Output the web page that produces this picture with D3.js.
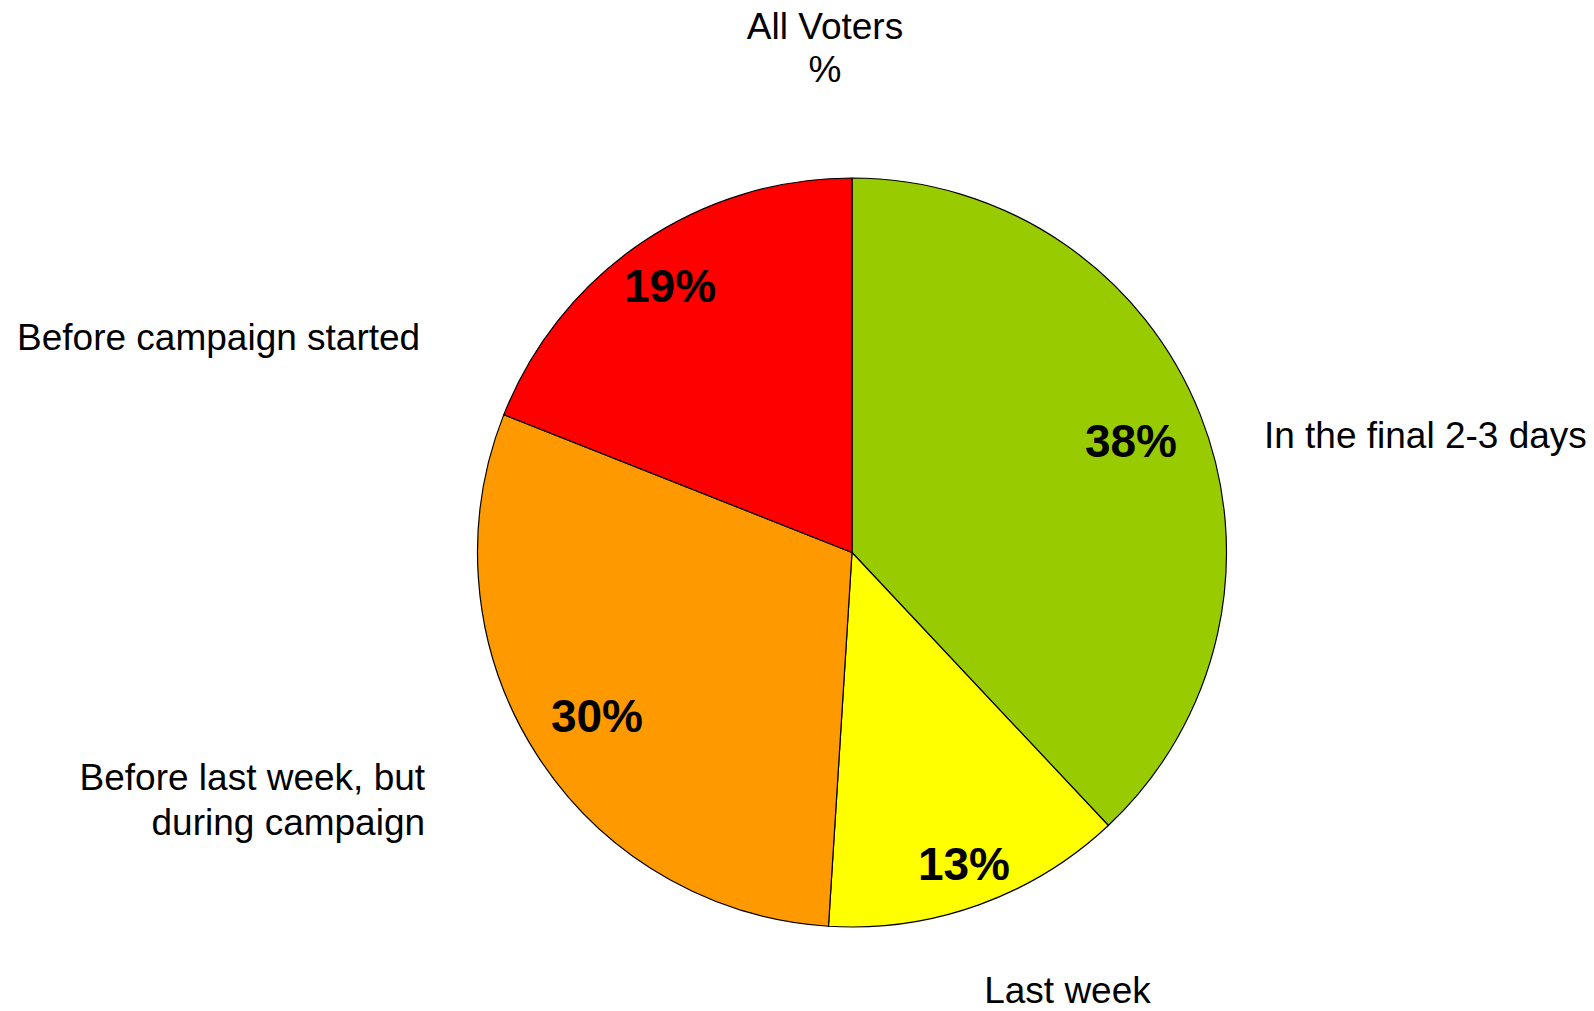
<!DOCTYPE html>
<html>
<head>
<meta charset="utf-8">
<script src="https://cdn.jsdelivr.net/npm/d3@7"></script>
<style>
  html, body { margin: 0; padding: 0; background: #fff; }
  svg { display: block; }
  text { font-family: "Liberation Sans", Arial, Helvetica, sans-serif; fill: #000; }
</style>
</head>
<body>
<svg id="chart" width="1594" height="1011"></svg>
<script>
// ---- data ----
const categories = ["In the final 2-3 days", "Last week", "Before last week, but during campaign", "Before campaign started"];
const values = [38, 13, 30, 19];
const colors = ["#99CC00", "#FFFF00", "#FF9900", "#FF0000"];
const titleLines = ["All Voters", "%"];
const outerLabelLines = [["In the final 2-3 days"], ["Last week"], ["Before last week, but", "during campaign"], ["Before campaign started"]];

// ---- layout ----
const W = 1594, H = 1011;
const cx = 852, cy = 552.5, R = 374.5;
// label placements, relative to pie centre in units of R
const pctLabelPos = [[0.745, -0.297], [0.299, 0.831], [-0.681, 0.437], [-0.486, -0.712]];
const outerLabelPos = [
  { dx: 1.100, dy: -0.278, anchor: "start" },
  { dx: 0.353, dy: 1.202, anchor: "start" },
  { dx: -1.140, dy: 0.634, anchor: "end" },
  { dx: -1.153, dy: -0.541, anchor: "end" }
];

const svg = d3.select("#chart");
const g = svg.append("g").attr("transform", `translate(${cx},${cy})`);

const pie = d3.pie().sort(null).value(d => d.value);
const arcs = pie(categories.map((c, i) => ({ cat: c, value: values[i], color: colors[i] })));
const arc = d3.arc().innerRadius(0).outerRadius(R);

g.selectAll("path.slice")
  .data(arcs)
  .join("path")
  .attr("class", "slice")
  .attr("d", arc)
  .attr("fill", d => d.data.color)
  .attr("stroke", "#000")
  .attr("stroke-width", 1.2)
  .attr("stroke-linejoin", "round");

// percent labels
g.selectAll("text.pct")
  .data(arcs)
  .join("text")
  .attr("class", "pct")
  .attr("x", (d, i) => pctLabelPos[i][0] * R)
  .attr("y", (d, i) => pctLabelPos[i][1] * R)
  .attr("text-anchor", "middle")
  .attr("dominant-baseline", "central")
  .style("font-size", "46px")
  .style("font-weight", "bold")
  .text(d => d.data.value + "%");

// outer labels
const lineH = 45;
g.selectAll("text.outer")
  .data(arcs)
  .join("text")
  .attr("class", "outer")
  .attr("text-anchor", (d, i) => outerLabelPos[i].anchor)
  .style("font-size", "37px")
  .each(function (d, i) {
    const t = d3.select(this);
    const lines = outerLabelLines[i];
    const x = outerLabelPos[i].dx * R;
    const y = outerLabelPos[i].dy * R;
    lines.forEach((ln, k) => {
      t.append("tspan")
        .attr("x", x)
        .attr("y", y + k * lineH)
        .text(ln);
    });
  });

// title
svg.append("text")
  .attr("text-anchor", "middle")
  .style("font-size", "37px")
  .selectAll("tspan")
  .data(titleLines)
  .join("tspan")
  .attr("x", 825)
  .attr("y", (d, i) => 39 + i * 43)
  .text(d => d);
</script>
</body>
</html>
